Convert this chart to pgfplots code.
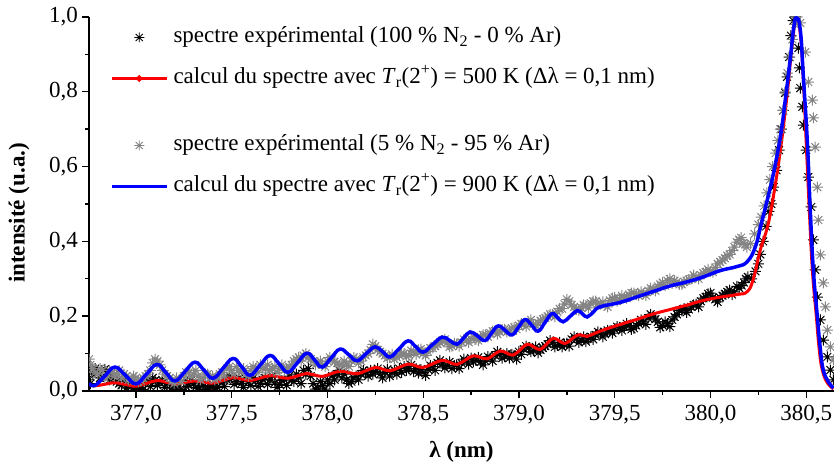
\documentclass[border=0pt]{standalone}
\usepackage{fontspec}
\setmainfont{Liberation Serif}
\usepackage{pgfplots}
\pgfplotsset{compat=1.18}

\definecolor{expgray}{RGB}{132,132,132}

% eight-ray asterisk used for the measured spectra
\pgfdeclareplotmark{ast8}{%
  \pgfpathmoveto{\pgfqpoint{-\pgfplotmarksize}{0pt}}%
  \pgfpathlineto{\pgfqpoint{\pgfplotmarksize}{0pt}}%
  \pgfpathmoveto{\pgfqpoint{0pt}{-\pgfplotmarksize}}%
  \pgfpathlineto{\pgfqpoint{0pt}{\pgfplotmarksize}}%
  \pgfpathmoveto{\pgfqpoint{-.7071\pgfplotmarksize}{-.7071\pgfplotmarksize}}%
  \pgfpathlineto{\pgfqpoint{.7071\pgfplotmarksize}{.7071\pgfplotmarksize}}%
  \pgfpathmoveto{\pgfqpoint{-.7071\pgfplotmarksize}{.7071\pgfplotmarksize}}%
  \pgfpathlineto{\pgfqpoint{.7071\pgfplotmarksize}{-.7071\pgfplotmarksize}}%
  \pgfusepathqstroke}

\newcommand{\lbl}{\fontsize{23}{27}\selectfont}

\begin{document}
\begin{tikzpicture}[font=\lbl]
\useasboundingbox (0,0) rectangle (834pt,468pt);
\begin{axis}[
  at={(89pt,77pt)}, anchor=south west,
  scale only axis, width=745pt, height=374pt,
  xmin=376.755, xmax=380.645, ymin=0, ymax=1,
  clip marker paths=true,
  axis x line*=bottom, axis y line*=left,
  axis line style={line width=1.5pt},
  tick align=outside,
  major tick length=7pt, minor tick length=4pt,
  every tick/.style={black, line width=1.4pt},
  xtick={377,377.5,...,380.5}, ytick={0,0.2,...,1.0},
  minor x tick num=1, minor y tick num=1,
  /pgf/number format/.cd, use comma, fixed, fixed zerofill, precision=1, assume math mode=true,
  /pgfplots/.cd,
  tick label style={font=\lbl},
  xticklabel style={inner sep=7pt},
  yticklabel style={inner sep=4pt},
  xlabel={\textbf{λ (nm)}},
  ylabel={\textbf{intensité (u.a.)}},
  every axis x label/.style={at={(axis description cs:0.5,-0.162)}, anchor=center, font=\lbl},
  every axis y label/.style={at={(axis description cs:-0.094,0.476)}, rotate=90, anchor=center, font=\lbl},
  legend cell align=left,
  legend image code/.code={\draw[mark repeat=2,mark phase=2] plot coordinates {(0pt,0pt) (27.5pt,0pt) (55pt,0pt)};},
  legend style={draw=none, fill=none, at={(0.0282,0.9733)}, anchor=north west,
    inner sep=0pt, outer sep=0pt, column sep=5pt, row sep=20pt,
    nodes={inner sep=0pt, text height=16pt, text depth=5pt, font=\lbl}},
  exp/.style={only marks, mark=ast8, mark size=5.5pt, line width=1pt, forget plot},
]

% measured spectrum, 100 % N2
\addplot[exp, black] coordinates {
(376.755,0.030) (376.775,0.045) (376.800,0.050) (376.825,0.040) (376.850,0.052) (376.875,0.035)
(376.900,0.025) (376.925,0.015) (376.950,0.008) (376.975,0.012) (377.000,0.005) (377.025,0.010)
(377.050,0.020) (377.075,0.012) (377.100,0.028) (377.125,0.022) (377.150,0.010) (377.175,0.018)
(377.200,0.006) (377.225,0.012) (377.250,0.025) (377.275,0.015) (377.300,0.020) (377.325,0.008)
(377.350,0.015) (377.375,0.005) (377.400,0.018) (377.425,0.010) (377.450,0.022) (377.475,0.030)
(377.500,0.035) (377.525,0.025) (377.550,0.020) (377.575,0.032) (377.600,0.015) (377.625,0.028)
(377.650,0.020) (377.675,0.035) (377.700,0.030) (377.725,0.022) (377.750,0.018) (377.775,0.030)
(377.800,0.040) (377.825,0.025) (377.850,0.035) (377.875,0.055) (377.900,0.060) (377.925,0.020)
(377.950,0.008) (377.975,0.015) (378.000,0.030) (378.025,0.040) (378.050,0.045) (378.075,0.035)
(378.100,0.030) (378.125,0.025) (378.150,0.040) (378.175,0.045) (378.200,0.050) (378.225,0.055)
(378.250,0.052) (378.275,0.045) (378.300,0.050) (378.325,0.040) (378.350,0.055) (378.375,0.060)
(378.400,0.065) (378.425,0.060) (378.450,0.052) (378.475,0.048) (378.500,0.050) (378.525,0.058)
(378.550,0.065) (378.575,0.075) (378.600,0.072) (378.625,0.068) (378.650,0.060) (378.675,0.070)
(378.700,0.075) (378.725,0.080) (378.750,0.088) (378.775,0.082) (378.800,0.078) (378.825,0.080)
(378.850,0.088) (378.875,0.095) (378.900,0.098) (378.925,0.092) (378.950,0.088) (378.975,0.095)
(379.000,0.105) (379.025,0.112) (379.050,0.115) (379.075,0.108) (379.100,0.102) (379.125,0.115)
(379.150,0.125) (379.175,0.130) (379.200,0.122) (379.225,0.118) (379.250,0.128) (379.275,0.138)
(379.300,0.140) (379.325,0.135) (379.350,0.132) (379.375,0.145) (379.400,0.150) (379.425,0.155)
(379.450,0.152) (379.475,0.160) (379.500,0.165) (379.525,0.170) (379.550,0.172) (379.575,0.175)
(379.600,0.168) (379.625,0.180) (379.650,0.185) (379.675,0.195) (379.700,0.200) (379.725,0.185)
(379.750,0.175) (379.775,0.180) (379.800,0.190) (379.825,0.205) (379.850,0.215) (379.875,0.210)
(379.900,0.225) (379.925,0.232) (379.950,0.240) (379.975,0.252) (380.000,0.262) (380.025,0.245)
(380.050,0.250) (380.075,0.260) (380.100,0.270) (380.125,0.265) (380.150,0.275) (380.175,0.290)
(380.195,0.305) (380.215,0.300) (380.235,0.320) (380.250,0.340) (380.260,0.365) (380.275,0.400)
(380.290,0.440) (380.305,0.480) (380.318,0.500) (380.330,0.545) (380.345,0.590) (380.358,0.644)
(380.370,0.700) (380.380,0.750) (380.390,0.797) (380.400,0.840) (380.410,0.893) (380.420,0.950)
(380.432,0.990) (380.445,1.000) (380.459,0.917) (380.464,0.864) (380.469,0.810) (380.480,0.760)
(380.485,0.711) (380.500,0.644) (380.511,0.572) (380.526,0.492) (380.537,0.404) (380.547,0.324)
(380.558,0.251) (380.574,0.190) (380.589,0.136) (380.610,0.091) (380.626,0.056) (380.642,0.030)
(376.7625,0.020) (376.7875,0.060) (376.8125,0.035) (376.8375,0.058) (376.8625,0.030) (376.8875,0.045)
(376.9125,0.020) (376.9375,0.030) (376.9625,0.018) (376.9875,0.002) (377.0125,0.018) (377.0375,0.004)
(377.0625,0.028) (377.0875,0.035) (377.1125,0.015) (377.1375,0.030) (377.1625,0.020) (377.1875,0.008)
(377.2125,0.020) (377.2375,0.004) (377.2625,0.012) (377.2875,0.028) (377.3125,0.010) (377.3375,0.022)
(377.3625,0.004) (377.3875,0.012) (377.4125,0.006) (377.4375,0.025) (377.4625,0.012) (377.4875,0.040)
(377.5125,0.018) (377.5375,0.035) (377.5625,0.010) (377.5875,0.025) (377.6125,0.035) (377.6375,0.012)
(377.6625,0.030) (377.6875,0.018) (377.7125,0.040) (377.7375,0.010) (377.7625,0.028) (377.7875,0.015)
(377.8125,0.030) (377.8375,0.045) (377.8625,0.020) (377.8875,0.045) (377.9125,0.040) (377.9375,0.005)
(377.9625,0.025) (377.9875,0.005) (378.0125,0.020) (378.0375,0.030) (378.0625,0.055) (378.0875,0.045)
(378.1125,0.020) (378.1375,0.035) (378.1625,0.030) (378.1875,0.055) (378.2125,0.040) (378.2375,0.045)
(378.2625,0.060) (378.2875,0.035) (378.3125,0.058) (378.3375,0.050) (378.3625,0.045) (378.3875,0.050)
(378.4125,0.055) (378.4375,0.070) (378.4625,0.060) (378.4875,0.058) (378.5125,0.042) (378.5375,0.068)
(378.5625,0.055) (378.5875,0.082) (378.6125,0.062) (378.6375,0.078) (378.6625,0.068) (378.6875,0.060)
(378.7125,0.085) (378.7375,0.072) (378.7625,0.078) (378.7875,0.090) (378.8125,0.070) (378.8375,0.092)
(378.8625,0.080) (378.8875,0.105) (378.9125,0.088) (378.9375,0.100) (378.9625,0.098) (378.9875,0.085)
(379.0125,0.098) (379.0375,0.120) (379.0625,0.105) (379.0875,0.118) (379.1125,0.110) (379.1375,0.120)
(379.1625,0.135) (379.1875,0.118) (379.2125,0.130) (379.2375,0.125) (379.2625,0.120) (379.2875,0.145)
(379.3125,0.130) (379.3375,0.145) (379.3625,0.140) (379.3875,0.138) (379.4125,0.158) (379.4375,0.145)
(379.4625,0.162) (379.4875,0.155) (379.5125,0.172) (379.5375,0.162) (379.5625,0.180) (379.5875,0.165)
(379.6125,0.175) (379.6375,0.190) (379.6625,0.178) (379.6875,0.205) (379.7125,0.192) (379.7375,0.170)
(379.7625,0.185) (379.7875,0.172) (379.8125,0.198) (379.8375,0.215) (379.8625,0.220) (379.8875,0.218)
(379.9125,0.230) (379.9375,0.225) (379.9625,0.248) (379.9875,0.260) (380.0125,0.250) (380.0375,0.238)
(380.0625,0.255) (380.0875,0.265) (380.1125,0.258) (380.1375,0.280) (380.1625,0.282) (380.1850,0.300)
};

% computed spectrum, Tr = 500 K
\addplot[red, line width=3pt, smooth, tension=0.75, forget plot] coordinates {
(376.754,0.018) (376.786,0.014) (376.838,0.018) (376.890,0.022) (376.945,0.0175) (377.000,0.013)
(377.055,0.0205) (377.110,0.028) (377.157,0.0235) (377.204,0.019) (377.256,0.023) (377.308,0.027)
(377.355,0.024) (377.402,0.021) (377.455,0.0285) (377.507,0.036) (377.552,0.032) (377.596,0.028)
(377.648,0.0345) (377.700,0.041) (377.747,0.0375) (377.794,0.034) (377.844,0.0405) (377.893,0.047)
(377.933,0.043) (377.972,0.039) (378.019,0.046) (378.066,0.053) (378.111,0.0495) (378.155,0.046)
(378.202,0.0545) (378.249,0.063) (378.288,0.0585) (378.327,0.054) (378.374,0.063) (378.421,0.072)
(378.460,0.0675) (378.499,0.063) (378.549,0.0725) (378.599,0.082) (378.638,0.0765) (378.677,0.071)
(378.719,0.0825) (378.761,0.094) (378.798,0.090) (378.834,0.086) (378.868,0.0965) (378.902,0.107)
(378.936,0.1015) (378.970,0.096) (379.007,0.1105) (379.043,0.125) (379.077,0.118) (379.111,0.111)
(379.145,0.126) (379.179,0.141) (379.210,0.134) (379.241,0.127) (379.275,0.1385) (379.309,0.150)
(379.333,0.148) (379.356,0.146) (379.398,0.1545) (379.440,0.163) (379.529,0.178) (379.618,0.192)
(379.701,0.206) (379.790,0.218) (379.879,0.230) (379.962,0.242) (380.051,0.251) (380.140,0.258)
(380.192,0.266) (380.224,0.300) (380.260,0.377) (380.298,0.440) (380.328,0.519) (380.365,0.644)
(380.401,0.797) (380.427,0.930) (380.448,0.998) (380.469,0.955) (380.485,0.830) (380.500,0.663)
(380.516,0.484) (380.532,0.324) (380.553,0.198) (380.568,0.110) (380.584,0.056) (380.610,0.022)
(380.642,0.006)
};

% measured spectrum, 5 % N2 - 95 % Ar
\addplot[exp, expgray] coordinates {
(376.755,0.085) (376.775,0.060) (376.800,0.045) (376.825,0.055) (376.850,0.040) (376.875,0.050)
(376.900,0.045) (376.925,0.035) (376.950,0.040) (376.975,0.030) (377.000,0.035) (377.025,0.028)
(377.050,0.040) (377.075,0.055) (377.100,0.085) (377.125,0.070) (377.150,0.045) (377.175,0.035)
(377.200,0.020) (377.225,0.030) (377.250,0.040) (377.275,0.050) (377.300,0.045) (377.325,0.040)
(377.350,0.035) (377.375,0.045) (377.400,0.040) (377.425,0.035) (377.450,0.050) (377.475,0.060)
(377.500,0.055) (377.525,0.065) (377.550,0.050) (377.575,0.045) (377.600,0.055) (377.625,0.060)
(377.650,0.070) (377.675,0.060) (377.700,0.055) (377.725,0.065) (377.750,0.060) (377.775,0.055)
(377.800,0.065) (377.825,0.080) (377.850,0.090) (377.875,0.095) (377.900,0.090) (377.925,0.080)
(377.950,0.075) (377.975,0.070) (378.000,0.080) (378.025,0.085) (378.050,0.075) (378.075,0.070)
(378.100,0.072) (378.125,0.080) (378.150,0.085) (378.175,0.080) (378.200,0.095) (378.225,0.110)
(378.250,0.120) (378.275,0.105) (378.300,0.095) (378.325,0.090) (378.350,0.085) (378.375,0.095)
(378.400,0.100) (378.425,0.095) (378.450,0.105) (378.475,0.110) (378.500,0.100) (378.525,0.105)
(378.550,0.115) (378.575,0.125) (378.600,0.135) (378.625,0.128) (378.650,0.120) (378.675,0.125)
(378.700,0.130) (378.725,0.135) (378.750,0.140) (378.775,0.138) (378.800,0.145) (378.825,0.150)
(378.850,0.155) (378.875,0.160) (378.900,0.158) (378.925,0.165) (378.950,0.160) (378.975,0.170)
(379.000,0.175) (379.025,0.180) (379.050,0.185) (379.075,0.178) (379.100,0.182) (379.125,0.192)
(379.150,0.200) (379.175,0.205) (379.200,0.212) (379.225,0.220) (379.250,0.245) (379.275,0.230)
(379.300,0.218) (379.325,0.222) (379.350,0.228) (379.375,0.235) (379.400,0.240) (379.425,0.232)
(379.450,0.230) (379.475,0.242) (379.500,0.250) (379.525,0.245) (379.550,0.250) (379.575,0.258)
(379.600,0.262) (379.625,0.255) (379.650,0.260) (379.675,0.268) (379.700,0.272) (379.725,0.280)
(379.750,0.290) (379.775,0.295) (379.800,0.288) (379.825,0.292) (379.850,0.285) (379.875,0.295)
(379.900,0.300) (379.925,0.305) (379.950,0.310) (379.975,0.318) (380.000,0.320) (380.025,0.330)
(380.050,0.345) (380.075,0.355) (380.100,0.365) (380.125,0.385) (380.150,0.405) (380.170,0.395)
(380.190,0.385) (380.210,0.395) (380.230,0.420) (380.250,0.445) (380.265,0.465) (380.280,0.495)
(380.295,0.530) (380.310,0.565) (380.325,0.600) (380.340,0.636) (380.352,0.670) (380.365,0.700)
(380.378,0.750) (380.390,0.800) (380.402,0.850) (380.415,0.893) (380.428,0.940) (380.440,0.980)
(380.452,1.000) (380.469,0.984) (380.495,0.906) (380.511,0.826) (380.532,0.778) (380.537,0.730)
(380.547,0.652) (380.558,0.545) (380.563,0.457) (380.574,0.364) (380.589,0.289) (380.600,0.225)
(380.610,0.163) (380.626,0.118) (380.642,0.083)
(376.7625,0.070) (376.7875,0.050) (376.8125,0.060) (376.8375,0.035) (376.8625,0.055) (376.8875,0.040)
(376.9125,0.055) (376.9375,0.045) (376.9625,0.030) (376.9875,0.040) (377.0125,0.025) (377.0375,0.035)
(377.0625,0.045) (377.0875,0.075) (377.1125,0.080) (377.1375,0.055) (377.1625,0.040) (377.1875,0.025)
(377.2125,0.035) (377.2375,0.025) (377.2625,0.050) (377.2875,0.040) (377.3125,0.055) (377.3375,0.030)
(377.3625,0.045) (377.3875,0.035) (377.4125,0.030) (377.4375,0.045) (377.4625,0.040) (377.4875,0.065)
(377.5125,0.045) (377.5375,0.055) (377.5625,0.060) (377.5875,0.040) (377.6125,0.065) (377.6375,0.050)
(377.6625,0.060) (377.6875,0.070) (377.7125,0.060) (377.7375,0.050) (377.7625,0.070) (377.7875,0.060)
(377.8125,0.070) (377.8375,0.085) (377.8625,0.080) (377.8875,0.100) (377.9125,0.085) (377.9375,0.070)
(377.9625,0.080) (377.9875,0.065) (378.0125,0.090) (378.0375,0.078) (378.0625,0.068) (378.0875,0.080)
(378.1125,0.065) (378.1375,0.090) (378.1625,0.075) (378.1875,0.090) (378.2125,0.100) (378.2375,0.125)
(378.2625,0.110) (378.2875,0.100) (378.3125,0.088) (378.3375,0.098) (378.3625,0.090) (378.3875,0.102)
(378.4125,0.092) (378.4375,0.108) (378.4625,0.098) (378.4875,0.112) (378.5125,0.095) (378.5375,0.115)
(378.5625,0.120) (378.5875,0.130) (378.6125,0.138) (378.6375,0.118) (378.6625,0.128) (378.6875,0.120)
(378.7125,0.138) (378.7375,0.130) (378.7625,0.145) (378.7875,0.135) (378.8125,0.150) (378.8375,0.145)
(378.8625,0.160) (378.8875,0.152) (378.9125,0.165) (378.9375,0.158) (378.9625,0.168) (378.9875,0.165)
(379.0125,0.180) (379.0375,0.172) (379.0625,0.190) (379.0875,0.175) (379.1125,0.188) (379.1375,0.195)
(379.1625,0.205) (379.1875,0.198) (379.2125,0.220) (379.2375,0.232) (379.2625,0.240) (379.2875,0.225)
(379.3125,0.215) (379.3375,0.230) (379.3625,0.222) (379.3875,0.240) (379.4125,0.232) (379.4375,0.238)
(379.4625,0.225) (379.4875,0.248) (379.5125,0.240) (379.5375,0.255) (379.5625,0.248) (379.5875,0.262)
(379.6125,0.258) (379.6375,0.265) (379.6625,0.255) (379.6875,0.275) (379.7125,0.268) (379.7375,0.285)
(379.7625,0.282) (379.7875,0.300) (379.8125,0.295) (379.8375,0.285) (379.8625,0.292) (379.8875,0.298)
(379.9125,0.310) (379.9375,0.300) (379.9625,0.315) (379.9875,0.325) (380.0125,0.318) (380.0375,0.340)
(380.0625,0.350) (380.0875,0.362) (380.1125,0.375) (380.1375,0.398) (380.1600,0.410) (380.1800,0.392)
};

% computed spectrum, Tr = 900 K
\addplot[blue, line width=3.5pt, smooth, tension=0.75, forget plot] coordinates {
(376.754,0.021) (376.786,0.015) (376.838,0.040) (376.890,0.064) (376.945,0.042) (377.000,0.019)
(377.055,0.045) (377.110,0.071) (377.157,0.049) (377.204,0.027) (377.256,0.052) (377.308,0.077)
(377.355,0.056) (377.402,0.034) (377.455,0.061) (377.507,0.087) (377.552,0.065) (377.596,0.042)
(377.648,0.069) (377.700,0.095) (377.747,0.073) (377.794,0.050) (377.844,0.076) (377.893,0.101)
(377.933,0.083) (377.972,0.064) (378.019,0.088) (378.066,0.112) (378.111,0.097) (378.155,0.081)
(378.202,0.100) (378.249,0.118) (378.288,0.105) (378.327,0.091) (378.374,0.113) (378.421,0.134)
(378.460,0.119) (378.499,0.104) (378.549,0.124) (378.599,0.144) (378.638,0.135) (378.677,0.125)
(378.711,0.142) (378.745,0.158) (378.784,0.147) (378.823,0.135) (378.857,0.155) (378.891,0.174)
(378.928,0.162) (378.964,0.150) (378.998,0.171) (379.032,0.191) (379.066,0.176) (379.100,0.160)
(379.137,0.184) (379.173,0.207) (379.202,0.196) (379.231,0.185) (379.268,0.200) (379.304,0.215)
(379.330,0.207) (379.356,0.198) (379.390,0.212) (379.424,0.225) (379.529,0.237) (379.618,0.252)
(379.701,0.266) (379.790,0.281) (379.879,0.292) (379.962,0.305) (380.051,0.322) (380.140,0.333)
(380.192,0.346) (380.234,0.385) (380.266,0.449) (380.301,0.520) (380.328,0.580) (380.365,0.680)
(380.391,0.780) (380.417,0.890) (380.433,0.965) (380.448,0.998) (380.469,0.965) (380.485,0.840)
(380.506,0.663) (380.521,0.484) (380.537,0.324) (380.558,0.198) (380.574,0.110) (380.589,0.056)
(380.615,0.025) (380.642,0.008)
};

\addlegendimage{only marks, mark=ast8, mark size=5pt, black, line width=0.9pt}
\addlegendentry{spectre expérimental (100 \% N\textsubscript{2} - 0 \% Ar)}
\addlegendimage{red, line width=3pt, mark=*, mark size=1.6pt}
\addlegendentry{calcul du spectre avec \textit{T}\textsubscript{r}(2\textsuperscript{+}) = 500 K (Δλ = 0,1 nm)}
\addlegendimage{empty legend}
\addlegendentry[text height=6pt, text depth=0pt]{}
\addlegendimage{only marks, mark=ast8, mark size=5pt, expgray, line width=0.9pt}
\addlegendentry{spectre expérimental (5 \% N\textsubscript{2} - 95 \% Ar)}
\addlegendimage{blue, line width=3.5pt}
\addlegendentry{calcul du spectre avec \textit{T}\textsubscript{r}(2\textsuperscript{+}) = 900 K (Δλ = 0,1 nm)}
\end{axis}
\end{tikzpicture}
\end{document}
